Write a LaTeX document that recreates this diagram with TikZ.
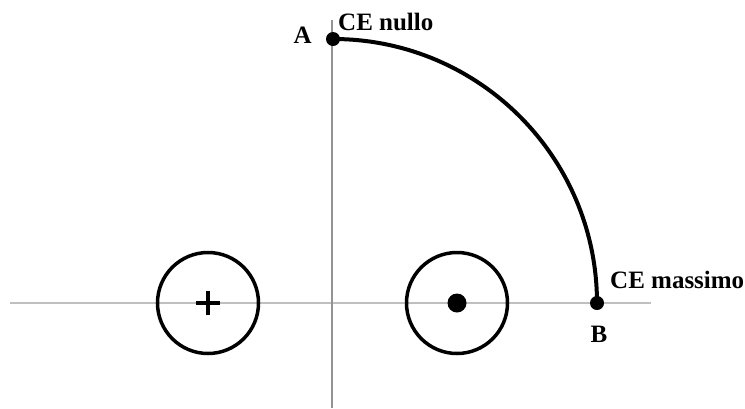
\documentclass[tikz,border=0pt]{standalone}
\usepackage{fontspec}
\setmainfont{Liberation Serif}
\usetikzlibrary{positioning}

\begin{document}
\begin{tikzpicture}[
    x=1pt, y=-1pt,
    axis/.style={line width=1.5pt},
    coil/.style={draw, circle, line width=3.5pt, minimum size=101pt, inner sep=0pt},
    dot/.style={circle, fill=black, inner sep=0pt, minimum size=14pt},
    lbl/.style={font=\fontsize{25}{28}\selectfont\bfseries, inner sep=0pt}
  ]
  \useasboundingbox (0,0) rectangle (745,408);

  % Axes
  \coordinate (xl) at (10,303);
  \coordinate (xr) at (651,303);
  \coordinate (yt) at (332,20);
  \coordinate (yb) at (332,408);
  \draw[axis, gray!50] (xl) -- (xr);
  \draw[axis, gray!85] (yt) -- (yb);

  % Conductors
  \node (left)  [coil] at (208,303) {};
  \node (right) [coil] at (457,303) {};
  \draw[line width=3.5pt] ([xshift=-12pt]left.center) -- ([xshift=12pt]left.center);
  \draw[line width=3.5pt] ([yshift=-12pt]left.center) -- ([yshift=12pt]left.center);
  \node (in) [dot, minimum size=19pt] at (right.center) {};

  % Locus
  \node (A) [dot] at (333,39) {};
  \node (B) [dot] at (597,303) {};
  \draw[line width=4pt] (A.center) arc[start angle=-90, end angle=0, radius=264];

  % Labels
  \node[lbl, anchor=base east] at (312,43) {A};
  \node[lbl, anchor=base west] at (338,30) {CE nullo};
  \node[lbl, anchor=base west] at (610,288) {CE massimo};
  \node[lbl, anchor=base] at (599,342) {B};
\end{tikzpicture}
\end{document}
